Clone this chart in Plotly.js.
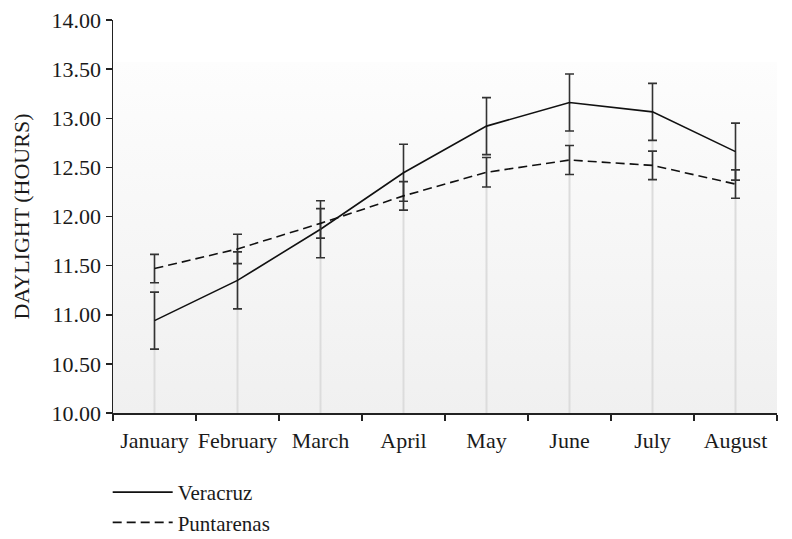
<!DOCTYPE html>
<html>
<head>
<meta charset="utf-8">
<script src="https://cdn.plot.ly/plotly-3.0.1.min.js"></script>
<style>
  html, body { margin: 0; padding: 0; background: #fff; }
  #chart { width: 792px; height: 539px; }
</style>
</head>
<body>
<div id="chart"></div>
<script>
// months on the x axis
const months = ["January", "February", "March", "April", "May", "June", "July", "August"];

// mean daylight hours
const veracruz = [10.94, 11.35, 11.87, 12.445, 12.92, 13.16, 13.065, 12.66];
const veracruzErr = [0.29, 0.29, 0.29, 0.29, 0.29, 0.29, 0.29, 0.29];
const puntarenas = [11.47, 11.67, 11.93, 12.21, 12.45, 12.575, 12.52, 12.33];
const puntarenasErr = [0.145, 0.15, 0.15, 0.145, 0.15, 0.147, 0.145, 0.145];

const yTicks = [10, 10.5, 11, 11.5, 12, 12.5, 13, 13.5, 14];
const FONT = "'Liberation Serif', 'DejaVu Serif', serif";

// light gray drop lines from the axis up to the higher of the two points
const dropX = [];
const dropY = [];
months.forEach((m, i) => {
  dropX.push(m, m, null);
  dropY.push(10, Math.max(veracruz[i], puntarenas[i]), null);
});

const dropTrace = {
  x: dropX, y: dropY,
  mode: 'lines',
  line: {color: '#dcdcdc', width: 2},
  showlegend: false,
  hoverinfo: 'skip'
};

const errStyle = {type: 'data', visible: true, color: '#333', thickness: 1.6, width: 4.5};

const verTrace = {
  x: months, y: veracruz,
  name: 'Veracruz',
  mode: 'lines',
  line: {color: '#111', width: 1.6},
  error_y: Object.assign({array: veracruzErr}, errStyle)
};

const puntTrace = {
  x: months, y: puntarenas,
  name: 'Puntarenas',
  mode: 'lines',
  line: {color: '#111', width: 1.6, dash: '9px,5px'},
  error_y: Object.assign({array: puntarenasErr}, errStyle)
};

// soft vertical gradient behind the plot area
const bgSvg = "<svg xmlns='http://www.w3.org/2000/svg' width='100' height='100' preserveAspectRatio='none'>" +
  "<defs><linearGradient id='g' x1='0' y1='0' x2='0' y2='1'>" +
  "<stop offset='0' stop-color='#fdfdfd'/><stop offset='1' stop-color='#f0f0f0'/>" +
  "</linearGradient></defs><rect width='100' height='100' fill='url(#g)'/></svg>";

const layout = {
  width: 792, height: 539,
  margin: {l: 113, r: 15, t: 20, b: 126, autoexpand: false},
  paper_bgcolor: '#fff',
  plot_bgcolor: 'rgba(0,0,0,0)',
  font: {family: FONT, size: 22, color: '#1a1a1a'},
  showlegend: true,
  legend: {
    x: -0.008, xanchor: 'left', xref: 'paper',
    y: -0.15, yanchor: 'top', yref: 'paper',
    bgcolor: 'rgba(0,0,0,0)',
    font: {family: FONT, size: 21, color: '#1a1a1a'},
    itemwidth: 60,
    tracegroupgap: 0
  },
  images: [{
    source: 'data:image/svg+xml;utf8,' + encodeURIComponent(bgSvg),
    xref: 'paper', yref: 'paper',
    x: 0, y: 0.893, sizex: 1, sizey: 0.893,
    xanchor: 'left', yanchor: 'top',
    sizing: 'stretch', layer: 'below'
  }],
  xaxis: {
    type: 'category',
    range: [-0.5, 7.5],
    showgrid: false, zeroline: false,
    showline: true, linecolor: '#222', linewidth: 1.5,
    ticks: 'outside', tickson: 'boundaries', ticklen: 6, tickwidth: 1.5, tickcolor: '#222',
    tickangle: 0, ticklabelstandoff: 7,
    tickfont: {family: FONT, size: 22, color: '#1a1a1a'}
  },
  yaxis: {
    range: [10, 14],
    tickvals: yTicks,
    tickformat: '.2f',
    showgrid: false, zeroline: false,
    showline: true, linecolor: '#222', linewidth: 1.5,
    ticks: 'outside', ticklen: 6, tickwidth: 1.5, tickcolor: '#222',
    tickfont: {family: FONT, size: 22, color: '#1a1a1a'},
    title: {text: 'DAYLIGHT (HOURS)', font: {family: FONT, size: 22, color: '#1a1a1a'}, standoff: 16}
  }
};

Plotly.newPlot('chart', [dropTrace, verTrace, puntTrace], layout, {displayModeBar: false, staticPlot: true});
</script>
</body>
</html>
